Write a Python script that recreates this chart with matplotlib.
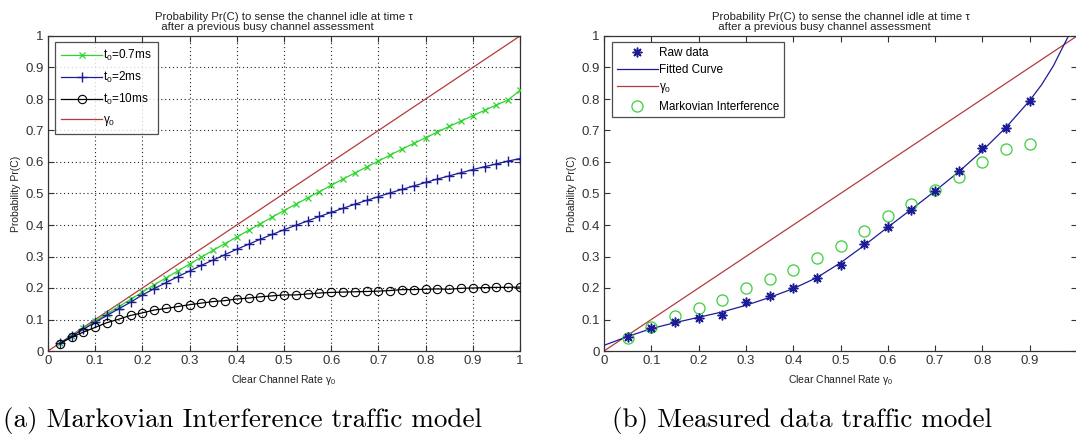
import matplotlib
matplotlib.use("Agg")
import matplotlib.pyplot as plt
import numpy as np

# ---------------- data (a) ----------------
gamma_a = [0.025, 0.05, 0.075, 0.1, 0.125, 0.15, 0.175, 0.2, 0.225, 0.25,
           0.275, 0.3, 0.325, 0.35, 0.375, 0.4, 0.425, 0.45, 0.475, 0.5,
           0.525, 0.55, 0.575, 0.6, 0.625, 0.65, 0.675, 0.7, 0.725, 0.75,
           0.775, 0.8, 0.825, 0.85, 0.875, 0.9, 0.925, 0.95, 0.975, 1.0]
pr_07ms = [0.024, 0.048, 0.072, 0.095, 0.118, 0.141, 0.164, 0.187, 0.210, 0.232,
           0.254, 0.276, 0.298, 0.320, 0.341, 0.362, 0.383, 0.404, 0.425, 0.446,
           0.466, 0.486, 0.506, 0.526, 0.546, 0.565, 0.584, 0.603, 0.622, 0.641,
           0.659, 0.677, 0.695, 0.713, 0.730, 0.747, 0.764, 0.781, 0.797, 0.828]
pr_2ms = [0.024, 0.047, 0.069, 0.091, 0.113, 0.134, 0.155, 0.178, 0.198, 0.217,
          0.236, 0.254, 0.272, 0.289, 0.306, 0.323, 0.339, 0.355, 0.370, 0.385,
          0.399, 0.413, 0.427, 0.440, 0.453, 0.466, 0.478, 0.490, 0.502, 0.513,
          0.524, 0.535, 0.546, 0.556, 0.566, 0.576, 0.585, 0.594, 0.603, 0.611]
pr_10ms = [0.023, 0.044, 0.060, 0.075, 0.090, 0.101, 0.113, 0.121, 0.130, 0.135,
           0.141, 0.147, 0.152, 0.157, 0.160, 0.165, 0.168, 0.172, 0.175, 0.178,
           0.178, 0.181, 0.184, 0.186, 0.187, 0.188, 0.189, 0.190, 0.192, 0.195,
           0.195, 0.196, 0.197, 0.196, 0.199, 0.200, 0.201, 0.202, 0.202, 0.203]
gamma_line = [0.0, 1.0]

# ---------------- data (b) ----------------
gamma_b = [0.05, 0.1, 0.15, 0.2, 0.25, 0.3, 0.35, 0.4, 0.45,
           0.5, 0.55, 0.6, 0.65, 0.7, 0.75, 0.8, 0.85, 0.9]
raw_data = [0.046, 0.073, 0.091, 0.105, 0.114, 0.156, 0.176, 0.200, 0.232,
            0.272, 0.341, 0.395, 0.448, 0.507, 0.570, 0.643, 0.709, 0.795]
markov = [0.040, 0.075, 0.110, 0.137, 0.163, 0.200, 0.228, 0.256, 0.295,
          0.332, 0.381, 0.430, 0.468, 0.510, 0.553, 0.600, 0.642, 0.656]
fit_x = [0.0, 0.05, 0.1, 0.15, 0.2, 0.25, 0.3, 0.35, 0.4, 0.45, 0.5, 0.55,
         0.6, 0.65, 0.7, 0.75, 0.8, 0.85, 0.9, 0.925, 0.95, 0.97, 0.982]
fit_y = [0.018, 0.046, 0.071, 0.090, 0.107, 0.124, 0.145, 0.170, 0.198, 0.233,
         0.280, 0.335, 0.393, 0.450, 0.508, 0.569, 0.636, 0.710, 0.795, 0.845,
         0.905, 0.965, 1.0]

ticks = [0, 0.1, 0.2, 0.3, 0.4, 0.5, 0.6, 0.7, 0.8, 0.9, 1]
tick_labels = ["0", "0.1", "0.2", "0.3", "0.4", "0.5", "0.6", "0.7", "0.8", "0.9", "1"]
# the right panel is cropped at the image edge: its last x label is not shown
tick_labels_b_x = ["0", "0.1", "0.2", "0.3", "0.4", "0.5", "0.6", "0.7", "0.8", "0.9", ""]

GREEN = "#2ed42e"
BLUE = "#1c1c96"
RED = "#b23c3c"
SANS = ["Liberation Sans", "DejaVu Sans"]

plt.rcParams["font.family"] = SANS
plt.rcParams["mathtext.fontset"] = "custom"
plt.rcParams["mathtext.rm"] = "Liberation Sans"
plt.rcParams["mathtext.it"] = "Liberation Sans"

fig = plt.figure(figsize=(10.76, 4.40), dpi=100)
W, H = 1076.0, 440.0
ax1 = fig.add_axes([48 / W, 1 - 351 / H, 472 / W, 315 / H])
ax2 = fig.add_axes([604 / W, 1 - 351 / H, 473 / W, 315 / H])

title = ("Probability Pr(C) to sense the channel idle at time \u03c4\n"
         "  after a previous busy channel assessment")
xlabel = r"Clear Channel Rate $\mathregular{\gamma_0}$"
ylabel = "Probability Pr(C)"


def style(ax, xlabels):
    ax.set_xlim(0, 1)
    ax.set_ylim(0, 1)
    ax.set_xticks(ticks)
    ax.set_xticklabels(xlabels)
    ax.set_yticks(ticks)
    ax.set_yticklabels(tick_labels)
    ax.tick_params(direction="in", top=True, right=True, length=4,
                   labelsize=9.5, colors="#333333", pad=3, width=0.8)
    for s in ax.spines.values():
        s.set_color("#333333")
        s.set_linewidth(0.9)
    t = ax.set_title(title, fontsize=8.2, pad=4, color="#222222",
                     linespacing=1.0)
    t.set_multialignment("left")
    ax.set_xlabel(xlabel, fontsize=7.5, labelpad=4, color="#222222")
    ax.set_ylabel(ylabel, fontsize=7.5, labelpad=3, color="#222222")


# ---- (a) ----
style(ax1, tick_labels)
ax1.grid(True, linestyle=(0, (1, 2.5)), color="#222222", linewidth=0.8)
ax1.plot(gamma_a, pr_07ms, color=GREEN, marker="x", ms=4, mew=0.9, lw=0.9,
         label=r"$\mathregular{t_0}$=0.7ms", zorder=3)
ax1.plot(gamma_a, pr_2ms, color=BLUE, marker="+", ms=7, mew=1.0, lw=0.9,
         label=r"$\mathregular{t_0}$=2ms", zorder=3)
ax1.plot(gamma_a, pr_10ms, color="black", marker="o", ms=6, mfc="none", mew=0.8,
         lw=0.9, label=r"$\mathregular{t_0}$=10ms", zorder=3)
ax1.plot(gamma_line, gamma_line, color=RED, lw=0.9,
         label=r"$\mathregular{\gamma_0}$", zorder=2)
leg1 = ax1.legend(loc="upper left", bbox_to_anchor=(7 / 472, 1 - 6 / 315),
                  fontsize=8.5, frameon=True, fancybox=False, handlelength=3.5,
                  handletextpad=0.1, borderpad=0.5, labelspacing=0.6,
                  borderaxespad=0)
leg1.get_frame().set_edgecolor("#222222")
leg1.get_frame().set_linewidth(0.9)

# ---- (b) ----
style(ax2, tick_labels_b_x)
ax2.plot(gamma_b, raw_data, linestyle="none", color=BLUE, marker=(8, 2, 0),
         ms=7, mew=1.1, label="Raw data", zorder=4)
ax2.plot(fit_x, fit_y, color=BLUE, lw=0.9, label="Fitted Curve", zorder=3)
ax2.plot(gamma_line, gamma_line, color=RED, lw=0.9,
         label=r"$\mathregular{\gamma_0}$", zorder=2)
ax2.plot(gamma_b, markov, linestyle="none", color="#3ccf3c", marker="o", ms=8,
         mfc="none", mew=0.9, label="Markovian Interference", zorder=3)
leg2 = ax2.legend(loc="upper left", bbox_to_anchor=(8 / 473, 1 - 6 / 315),
                  fontsize=8.5, frameon=True, fancybox=False, handlelength=3.5,
                  handletextpad=0.1, borderpad=0.4, labelspacing=0.45,
                  borderaxespad=0)
leg2.get_frame().set_edgecolor("#222222")
leg2.get_frame().set_linewidth(0.9)

# ---- captions ----
fig.text(3 / W, 1 - 420 / H, "(a) Markovian Interference traffic model",
         family=["cmr10", "DejaVu Serif"], fontsize=19.5, va="center", ha="left")
fig.text(612 / W, 1 - 420 / H, "(b) Measured data traffic model",
         family=["cmr10", "DejaVu Serif"], fontsize=19.5, va="center", ha="left")

fig.savefig("out.png", dpi=100)
